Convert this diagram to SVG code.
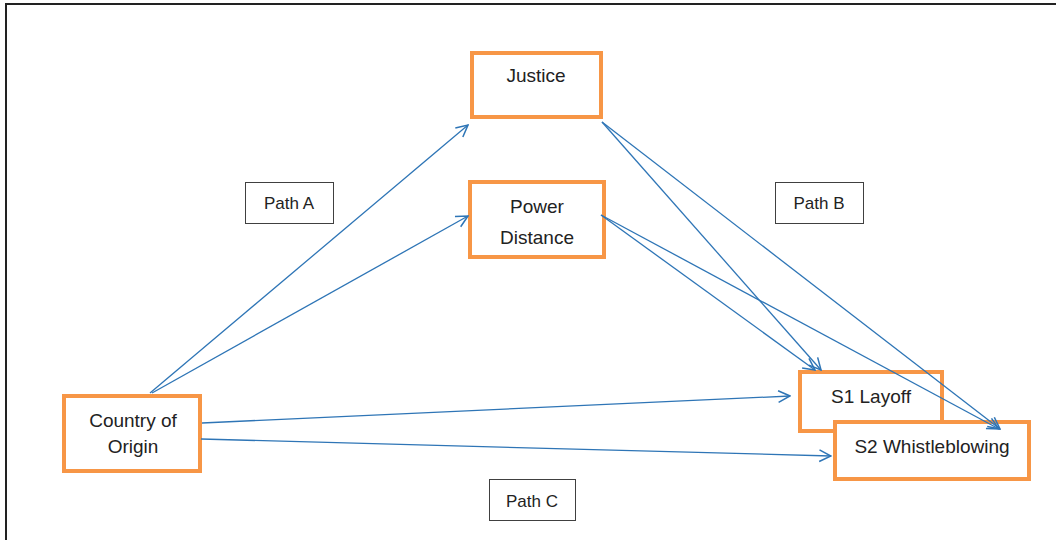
<svg xmlns="http://www.w3.org/2000/svg" width="1056" height="540" viewBox="0 0 1056 540">
<style>
.node{fill:#fff;stroke:#F79646;stroke-width:4}
.lbl{fill:#fff;stroke:#404040;stroke-width:1}
.t{font-family:"Liberation Sans",Arial,sans-serif;font-size:19px;fill:#222;text-anchor:middle}
.p{font-family:"Liberation Sans",Arial,sans-serif;font-size:17px;fill:#222;text-anchor:middle}
.c{fill:none;stroke:#2E75B6;stroke-width:1.3;marker-end:url(#ah)}
</style>
<defs>
<marker id="ah" markerUnits="userSpaceOnUse" markerWidth="14" markerHeight="14" viewBox="0 0 12 12" refX="11" refY="6" orient="auto">
<path d="M1,1 L11,6 L1,11" fill="none" stroke="#2E75B6" stroke-width="1.3"/>
</marker>
</defs>
<rect width="1056" height="540" fill="#fff"/>
<path d="M6,540 V4 H1056" fill="none" stroke="#222" stroke-width="2"/>
<g id="justice"><rect class="node" x="472" y="53" width="129" height="64"/><text class="t" x="536" y="82">Justice</text></g>
<g id="power-distance"><rect class="node" x="470" y="182" width="134" height="75"/><text class="t" x="537" y="213">Power</text><text class="t" x="537" y="244">Distance</text></g>
<g id="country"><rect class="node" x="64" y="396" width="136" height="75"/><text class="t" x="133" y="427">Country of</text><text class="t" x="133" y="453">Origin</text></g>
<g id="s1"><rect class="node" x="800" y="372" width="142" height="59"/><text class="t" x="871" y="403">S1 Layoff</text></g>
<g id="s2"><rect class="node" x="835" y="422" width="194" height="57"/><text class="t" x="932" y="453">S2 Whistleblowing</text></g>
<g id="path-a"><rect class="lbl" x="245.5" y="182.5" width="88" height="41"/><text class="p" x="289" y="209">Path A</text></g>
<g id="path-b"><rect class="lbl" x="775.5" y="182.5" width="88" height="41"/><text class="p" x="819" y="209">Path B</text></g>
<g id="path-c"><rect class="lbl" x="489.5" y="479.5" width="86" height="41"/><text class="p" x="532" y="507">Path C</text></g>
<g id="connectors">
<line class="c" x1="150" y1="393" x2="468" y2="125"/>
<line class="c" x1="152" y1="393" x2="468" y2="216"/>
<line class="c" x1="202" y1="423" x2="790" y2="396"/>
<line class="c" x1="201" y1="439" x2="831" y2="456"/>
<line class="c" x1="602" y1="122" x2="821" y2="370"/>
<line class="c" x1="602" y1="122" x2="1000" y2="429"/>
<line class="c" x1="601" y1="215" x2="815" y2="370"/>
<line class="c" x1="601" y1="215" x2="999" y2="429"/>
</g>
</svg>
